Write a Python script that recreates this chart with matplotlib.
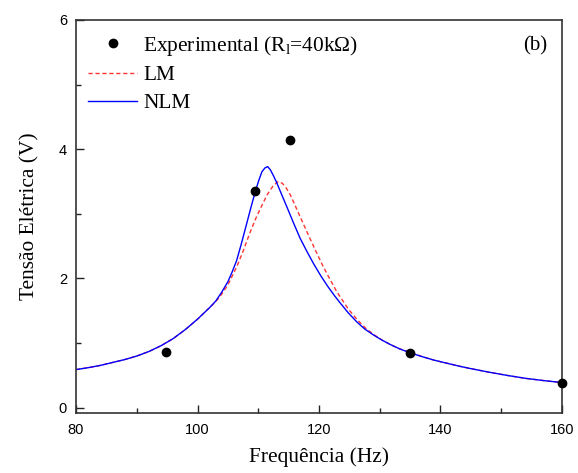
import matplotlib
matplotlib.use("Agg")
import matplotlib.pyplot as plt
from matplotlib.ticker import MultipleLocator

plt.rcParams["font.family"] = ["Liberation Serif", "DejaVu Serif"]
plt.rcParams["mathtext.fontset"] = "custom"
plt.rcParams["mathtext.rm"] = "Liberation Serif"
plt.rcParams["mathtext.it"] = "Liberation Serif:italic"

# experimental points
exp_freq = [94.8, 109.5, 115.2, 135.0, 160.0]
exp_volt = [0.86, 3.35, 4.14, 0.85, 0.39]

# linear model (LM)
lm_freq = [80, 82, 84, 86, 88, 90, 92, 94, 96, 98, 100, 101, 102, 103,
           104, 105, 106.45, 107.5, 108.6, 109.6, 110.6, 111.5, 112.5,
           113.3, 114.0, 114.6, 115.3, 116.3, 117.4, 118.5, 119.6, 120.5,
           121.5, 122.9, 124.8, 126.3, 127.8, 129.2, 130.5, 131.9, 133.3,
           135, 137, 139, 141, 143, 145, 148, 151, 154, 157, 160]
lm_volt = [0.59, 0.62, 0.655, 0.70, 0.745, 0.80, 0.87, 0.96, 1.07, 1.21,
           1.37, 1.46, 1.55, 1.64,
           1.76, 1.90, 2.18, 2.42, 2.70, 2.93, 3.13, 3.30, 3.44,
           3.50, 3.47, 3.40, 3.29, 3.08, 2.85, 2.62, 2.40, 2.22,
           2.04, 1.80, 1.53, 1.36, 1.22, 1.12, 1.04, 0.97, 0.91,
           0.86, 0.79, 0.735, 0.69, 0.645, 0.605, 0.55, 0.50, 0.455, 0.42, 0.39]

# nonlinear model (NLM)
nlm_freq = [80, 82, 84, 86, 88, 90, 92, 94, 96, 98, 100, 101, 102, 103,
            104, 105, 105.7, 106.45, 107.2, 108.1, 108.8, 109.5, 110.1,
            110.6, 111.1, 111.55, 112.0, 112.5, 113.0, 113.8, 114.7, 115.8,
            116.9, 118.0, 119.1, 120.3, 121.5, 122.5, 123.5, 124.8, 126.2,
            127.5, 128.9, 130.3, 131.7, 133.3,
            135, 137, 139, 141, 143, 145, 148, 151, 154, 157, 160]
nlm_volt = [0.59, 0.62, 0.655, 0.70, 0.745, 0.80, 0.87, 0.96, 1.07, 1.21,
            1.37, 1.46, 1.55, 1.65,
            1.79, 1.95, 2.10, 2.28, 2.53, 2.85, 3.10, 3.34, 3.52,
            3.65, 3.71, 3.73, 3.68, 3.59, 3.49, 3.31, 3.11, 2.86,
            2.62, 2.42, 2.23, 2.04, 1.87, 1.74, 1.62, 1.47, 1.33,
            1.22, 1.13, 1.05, 0.98, 0.91,
            0.85, 0.79, 0.735, 0.69, 0.645, 0.605, 0.55, 0.50, 0.455, 0.42, 0.39]

fig = plt.figure(figsize=(5.78, 4.73), dpi=100)
ax = fig.add_axes([0.1315, 0.127, 0.8408, 0.831])

ax.plot(exp_freq, exp_volt, "o", color="black", markersize=6,
        label=r"Experimental (R$_\mathregular{l}$=40k$\Omega$)", clip_on=False, zorder=5)
ax.plot(lm_freq, lm_volt, "--", color="#ff3333", linewidth=1.0, dashes=(3, 2), label="LM")
ax.plot(nlm_freq, nlm_volt, "-", color="#0000ff", linewidth=1.0, label="NLM")

ax.set_xlim(80, 160)
ax.set_ylim(-0.08, 6)
ax.xaxis.set_major_locator(MultipleLocator(20))
ax.xaxis.set_minor_locator(MultipleLocator(10))
ax.yaxis.set_major_locator(MultipleLocator(2))
ax.yaxis.set_minor_locator(MultipleLocator(1))
ax.tick_params(which="both", direction="in", width=1.0, colors="#222222")
ax.tick_params(which="major", length=6)
ax.tick_params(which="minor", length=3.5)
ax.tick_params(axis="x", which="major", pad=7)
ax.tick_params(axis="y", which="major", pad=6.5)
for lab in ax.get_xticklabels() + ax.get_yticklabels():
    lab.set_family("Liberation Sans")
    lab.set_fontsize(10.5)
    lab.set_color("black")
for sp in ax.spines.values():
    sp.set_linewidth(1.2)
    sp.set_color("#333333")

ax.set_xlabel("Frequência (Hz)", fontsize=15.4, labelpad=8)
ax.set_ylabel("Tensão Elétrica (V)", fontsize=15.4, labelpad=14)

ax.text(0.97, 0.935, "(b)", transform=ax.transAxes, fontsize=15,
        ha="right", va="center")

ax.legend(loc="upper left", frameon=False, fontsize=15.4, handlelength=2.3,
          handletextpad=0.28, labelspacing=0.37, borderaxespad=0.0,
          bbox_to_anchor=(0.007, 0.987))

fig.savefig("out.png", dpi=100)
